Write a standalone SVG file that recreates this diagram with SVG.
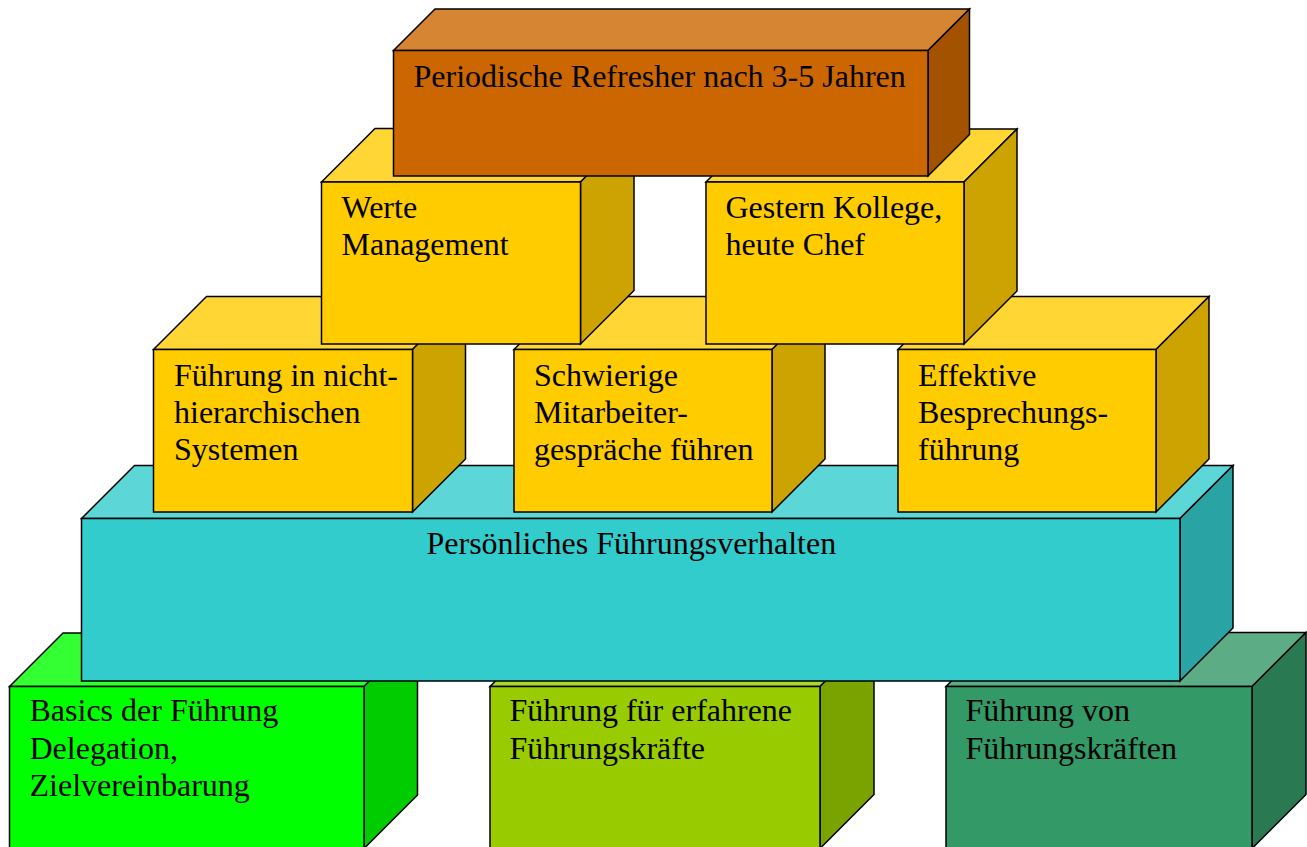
<svg xmlns="http://www.w3.org/2000/svg" width="1307" height="847" viewBox="0 0 1307 847">
<style>
  .s { stroke: #000; stroke-width: 1.5; stroke-linejoin: miter; }
  .t { font-family: "Liberation Serif", "Times New Roman", serif; font-size: 32px; fill: #000; }
  .of { fill: #CC6600; } .ot { fill: #D68533; } .os { fill: #A35200; }
  .yf { fill: #FFCC00; } .yt { fill: #FFD633; } .ys { fill: #CCA300; }
  .cf { fill: #33CCCC; } .ct { fill: #5CD6D6; } .cs { fill: #29A3A3; }
  .gf { fill: #00FF00; } .gt { fill: #33FF33; } .gs { fill: #00CC00; }
  .lf { fill: #99CC00; } .lt { fill: #ADD633; } .ls { fill: #7AA300; }
  .df { fill: #339966; } .dt { fill: #5CAD85; } .ds { fill: #297A52; }
</style>
<rect width="1307" height="847" fill="#FFFFFF"/>

<g id="basics">
  <polygon class="s gt" points="9.5,686.5 63,633 417.5,633 364,686.5"/>
  <polygon class="s gs" points="364,686.5 417.5,633 417.5,795 364,848.5"/>
  <rect class="s gf" x="9.5" y="686.5" width="354.5" height="162"/>
  <text class="t" x="29.5" y="720.5">Basics der Führung</text>
  <text class="t" x="29.5" y="758.5">Delegation,</text>
  <text class="t" x="29.5" y="796">Zielvereinbarung</text>
</g>

<g id="erfahrene">
  <polygon class="s lt" points="490,686.5 544,632.5 874,632.5 820,686.5"/>
  <polygon class="s ls" points="820,686.5 874,632.5 874,794.5 820,848.5"/>
  <rect class="s lf" x="490" y="686.5" width="330" height="162"/>
  <text class="t" x="509.5" y="721">Führung für erfahrene</text>
  <text class="t" x="509.5" y="758.5">Führungskräfte</text>
</g>

<g id="fuehrungskraefte">
  <polygon class="s dt" points="946,686.5 1000,632.5 1306,632.5 1252,686.5"/>
  <polygon class="s ds" points="1252,686.5 1306,632.5 1306,794.5 1252,848.5"/>
  <rect class="s df" x="946" y="686.5" width="306" height="162"/>
  <text class="t" x="965.5" y="721">Führung von</text>
  <text class="t" x="965.5" y="758.5">Führungskräften</text>
</g>

<g id="persoenlich">
  <polygon class="s ct" points="81.5,518.5 134.5,465.5 1233,465.5 1180,518.5"/>
  <polygon class="s cs" points="1180,518.5 1233,465.5 1233,628 1180,681"/>
  <rect class="s cf" x="81.5" y="518.5" width="1098.5" height="162.5"/>
  <text class="t" x="426.5" y="553.5">Persönliches Führungsverhalten</text>
</g>

<g id="nichthierarchisch">
  <polygon class="s yt" points="153.5,349.5 206.5,296.5 465.5,296.5 412.5,349.5"/>
  <polygon class="s ys" points="412.5,349.5 465.5,296.5 465.5,459 412.5,512"/>
  <rect class="s yf" x="153.5" y="349.5" width="259" height="162.5"/>
  <text class="t" x="174" y="386">Führung in nicht-</text>
  <text class="t" x="174" y="423">hierarchischen</text>
  <text class="t" x="174" y="460">Systemen</text>
</g>

<g id="schwierige">
  <polygon class="s yt" points="514,349.5 567,296.5 825,296.5 772,349.5"/>
  <polygon class="s ys" points="772,349.5 825,296.5 825,459 772,512"/>
  <rect class="s yf" x="514" y="349.5" width="258" height="162.5"/>
  <text class="t" x="534" y="386">Schwierige</text>
  <text class="t" x="534" y="423">Mitarbeiter-</text>
  <text class="t" x="534" y="460">gespräche führen</text>
</g>

<g id="effektive">
  <polygon class="s yt" points="898,349.5 951,296.5 1209,296.5 1156,349.5"/>
  <polygon class="s ys" points="1156,349.5 1209,296.5 1209,459 1156,512"/>
  <rect class="s yf" x="898" y="349.5" width="258" height="162.5"/>
  <text class="t" x="918" y="386">Effektive</text>
  <text class="t" x="918" y="423">Besprechungs-</text>
  <text class="t" x="918" y="460">führung</text>
</g>

<g id="werte">
  <polygon class="s yt" points="321.5,182 375,128.5 634,128.5 580.5,182"/>
  <polygon class="s ys" points="580.5,182 634,128.5 634,290.5 580.5,344"/>
  <rect class="s yf" x="321.5" y="182" width="259" height="162"/>
  <text class="t" x="341.5" y="217.5">Werte</text>
  <text class="t" x="341.5" y="255">Management</text>
</g>

<g id="gestern">
  <polygon class="s yt" points="706,182 759,129 1017,129 964,182"/>
  <polygon class="s ys" points="964,182 1017,129 1017,291 964,344"/>
  <rect class="s yf" x="706" y="182" width="258" height="162"/>
  <text class="t" x="725.5" y="217.5">Gestern Kollege,</text>
  <text class="t" x="725.5" y="254.5">heute Chef</text>
</g>

<g id="refresher">
  <polygon class="s ot" points="393.5,50.5 435,9 969.5,9 928,50.5"/>
  <polygon class="s os" points="928,50.5 969.5,9 969.5,134.5 928,176"/>
  <rect class="s of" x="393.5" y="50.5" width="534.5" height="125.5"/>
  <text class="t" x="413.5" y="86.5">Periodische Refresher nach 3-5 Jahren</text>
</g>

<g id="connectors"></g>
</svg>
